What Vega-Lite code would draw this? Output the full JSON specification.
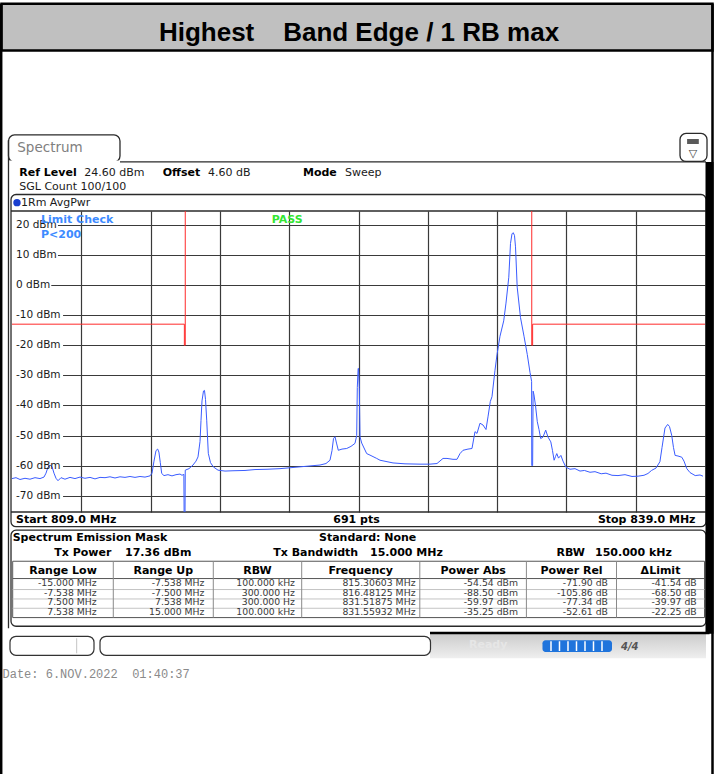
{
  "$schema": "https://vega.github.io/schema/vega-lite/v6.json",
  "width": 693,
  "height": 301,
  "autosize": {"type": "none"},
  "padding": {"left": 12, "top": 211, "right": 13, "bottom": 262},
  "background": "white",
  "config": {
    "view": {"stroke": null},
    "axis": {"gridColor": "#3a3a3a", "gridWidth": 1.2, "gridOpacity": 1}
  },
  "datasets": {
    "trace": [
      {"f":809.000,"dbm":-64.3},{"f":809.173,"dbm":-64.0},{"f":809.346,"dbm":-64.6},{"f":809.563,"dbm":-64.2},{"f":809.779,"dbm":-64.5},
      {"f":809.996,"dbm":-64.0},{"f":810.212,"dbm":-64.3},{"f":810.385,"dbm":-63.8},{"f":810.472,"dbm":-62.5},{"f":810.558,"dbm":-60.5},
      {"f":810.645,"dbm":-59.8},{"f":810.732,"dbm":-60.3},{"f":810.818,"dbm":-62.5},{"f":810.905,"dbm":-64.2},{"f":810.991,"dbm":-65.0},
      {"f":811.121,"dbm":-64.0},{"f":811.294,"dbm":-64.5},{"f":811.511,"dbm":-63.9},{"f":811.727,"dbm":-64.3},{"f":811.944,"dbm":-63.8},
      {"f":812.160,"dbm":-64.2},{"f":812.377,"dbm":-63.9},{"f":812.593,"dbm":-64.4},{"f":812.810,"dbm":-63.9},{"f":813.026,"dbm":-64.0},
      {"f":813.242,"dbm":-63.7},{"f":813.459,"dbm":-64.1},{"f":813.675,"dbm":-63.7},{"f":813.892,"dbm":-63.9},{"f":814.108,"dbm":-63.6},
      {"f":814.325,"dbm":-63.9},{"f":814.541,"dbm":-63.6},{"f":814.758,"dbm":-63.8},{"f":814.974,"dbm":-63.4},{"f":815.061,"dbm":-62.5},
      {"f":815.147,"dbm":-58.5},{"f":815.234,"dbm":-55.0},{"f":815.306,"dbm":-54.5},{"f":815.360,"dbm":-55.5},{"f":815.420,"dbm":-59.0},
      {"f":815.481,"dbm":-62.6},{"f":815.580,"dbm":-63.3},{"f":815.753,"dbm":-63.0},{"f":815.926,"dbm":-63.4},{"f":816.100,"dbm":-63.0},
      {"f":816.273,"dbm":-62.8},{"f":816.359,"dbm":-63.2},{"f":816.440,"dbm":-62.9},{"f":816.462,"dbm":-88.5},{"f":816.481,"dbm":-88.5},
      {"f":816.500,"dbm":-61.5},{"f":816.662,"dbm":-61.0},{"f":816.835,"dbm":-59.8},{"f":816.965,"dbm":-58.5},{"f":817.052,"dbm":-57.1},
      {"f":817.139,"dbm":-52.0},{"f":817.182,"dbm":-45.0},{"f":817.225,"dbm":-38.5},{"f":817.290,"dbm":-35.2},{"f":817.333,"dbm":-35.0},
      {"f":817.377,"dbm":-38.0},{"f":817.429,"dbm":-44.9},{"f":817.498,"dbm":-55.9},{"f":817.593,"dbm":-59.0},{"f":817.714,"dbm":-60.4},
      {"f":817.918,"dbm":-61.5},{"f":818.221,"dbm":-61.8},{"f":818.567,"dbm":-61.7},{"f":819.087,"dbm":-61.6},{"f":819.519,"dbm":-61.3},
      {"f":820.039,"dbm":-61.2},{"f":820.602,"dbm":-61.0},{"f":821.035,"dbm":-60.7},{"f":821.468,"dbm":-60.4},{"f":821.900,"dbm":-60.1},
      {"f":822.333,"dbm":-59.8},{"f":822.593,"dbm":-59.3},{"f":822.766,"dbm":-58.2},{"f":822.853,"dbm":-55.0},{"f":822.918,"dbm":-51.0},
      {"f":822.983,"dbm":-50.4},{"f":823.048,"dbm":-52.5},{"f":823.126,"dbm":-54.9},{"f":823.286,"dbm":-54.5},{"f":823.489,"dbm":-54.3},
      {"f":823.675,"dbm":-53.6},{"f":823.848,"dbm":-52.6},{"f":823.922,"dbm":-50.0},{"f":823.948,"dbm":-34.0},{"f":823.985,"dbm":-27.7},
      {"f":824.000,"dbm":-27.7},{"f":824.035,"dbm":-34.0},{"f":824.065,"dbm":-50.4},{"f":824.139,"dbm":-52.5},{"f":824.355,"dbm":-56.0},
      {"f":824.498,"dbm":-56.5},{"f":824.788,"dbm":-57.6},{"f":824.931,"dbm":-58.2},{"f":825.494,"dbm":-59.1},{"f":826.013,"dbm":-59.4},
      {"f":826.662,"dbm":-59.5},{"f":827.095,"dbm":-59.5},{"f":827.398,"dbm":-59.3},{"f":827.658,"dbm":-57.6},{"f":827.831,"dbm":-57.6},
      {"f":828.091,"dbm":-57.9},{"f":828.264,"dbm":-57.9},{"f":828.394,"dbm":-56.0},{"f":828.524,"dbm":-54.9},{"f":828.740,"dbm":-54.5},
      {"f":828.913,"dbm":-54.3},{"f":829.043,"dbm":-48.7},{"f":829.130,"dbm":-49.3},{"f":829.260,"dbm":-45.9},{"f":829.390,"dbm":-46.5},
      {"f":829.519,"dbm":-48.0},{"f":829.606,"dbm":-43.8},{"f":829.706,"dbm":-38.7},{"f":829.779,"dbm":-37.1},{"f":829.909,"dbm":-28.3},
      {"f":829.996,"dbm":-23.1},{"f":830.126,"dbm":-17.0},{"f":830.286,"dbm":-11.9},{"f":830.385,"dbm":-6.0},{"f":830.506,"dbm":2.6},
      {"f":830.580,"dbm":13.8},{"f":830.645,"dbm":17.0},{"f":830.697,"dbm":17.4},{"f":830.753,"dbm":16.5},{"f":830.797,"dbm":12.7},
      {"f":830.870,"dbm":-0.7},{"f":831.013,"dbm":-10.8},{"f":831.165,"dbm":-17.0},{"f":831.307,"dbm":-23.1},{"f":831.424,"dbm":-29.0},
      {"f":831.494,"dbm":-32.0},{"f":831.500,"dbm":-59.97},{"f":831.538,"dbm":-59.97},{"f":831.559,"dbm":-35.25},{"f":831.597,"dbm":-36.5},
      {"f":831.662,"dbm":-40.0},{"f":831.740,"dbm":-45.4},{"f":831.814,"dbm":-48.0},{"f":831.887,"dbm":-51.0},{"f":831.987,"dbm":-50.5},
      {"f":832.104,"dbm":-48.2},{"f":832.203,"dbm":-50.5},{"f":832.325,"dbm":-52.1},{"f":832.398,"dbm":-55.0},{"f":832.468,"dbm":-58.2},
      {"f":832.528,"dbm":-57.0},{"f":832.584,"dbm":-56.0},{"f":832.658,"dbm":-57.5},{"f":832.762,"dbm":-56.6},{"f":832.853,"dbm":-58.5},
      {"f":832.978,"dbm":-60.5},{"f":833.156,"dbm":-61.2},{"f":833.372,"dbm":-61.0},{"f":833.589,"dbm":-61.8},{"f":833.779,"dbm":-61.6},
      {"f":834.022,"dbm":-62.2},{"f":834.238,"dbm":-62.0},{"f":834.506,"dbm":-62.7},{"f":834.714,"dbm":-62.5},{"f":834.974,"dbm":-63.2},
      {"f":835.234,"dbm":-63.3},{"f":835.537,"dbm":-63.0},{"f":835.840,"dbm":-63.6},{"f":836.104,"dbm":-63.5},{"f":836.359,"dbm":-63.2},
      {"f":836.532,"dbm":-62.6},{"f":836.684,"dbm":-61.6},{"f":836.879,"dbm":-60.8},{"f":837.048,"dbm":-58.7},{"f":837.139,"dbm":-54.0},
      {"f":837.268,"dbm":-47.5},{"f":837.385,"dbm":-46.3},{"f":837.463,"dbm":-47.0},{"f":837.558,"dbm":-49.9},{"f":837.636,"dbm":-54.0},
      {"f":837.706,"dbm":-56.6},{"f":837.831,"dbm":-56.8},{"f":837.996,"dbm":-57.2},{"f":838.091,"dbm":-58.5},{"f":838.212,"dbm":-61.0},
      {"f":838.351,"dbm":-62.3},{"f":838.576,"dbm":-63.3},{"f":838.784,"dbm":-63.1},{"f":838.913,"dbm":-63.5}
    ],
    "limit": [
      {"seg":"L","i":1,"f":809,"dbm":-13},{"seg":"L","i":2,"f":816.462,"dbm":-13},{"seg":"L","i":3,"f":816.462,"dbm":-20},
      {"seg":"L","i":4,"f":816.5,"dbm":-20},{"seg":"L","i":5,"f":816.5,"dbm":30},
      {"seg":"R","i":1,"f":831.5,"dbm":30},{"seg":"R","i":2,"f":831.5,"dbm":-20},{"seg":"R","i":3,"f":831.538,"dbm":-20},
      {"seg":"R","i":4,"f":831.538,"dbm":-13},{"seg":"R","i":5,"f":839,"dbm":-13}
    ],
    "levels": [
      {"f":809,"f2":810.99,"dbm":20,"label":"20 dBm"},{"f":809,"f2":810.99,"dbm":10,"label":"10 dBm"},{"f":809,"f2":810.7,"dbm":0,"label":"0 dBm"},
      {"f":809,"f2":811.21,"dbm":-10,"label":"-10 dBm"},{"f":809,"f2":811.21,"dbm":-20,"label":"-20 dBm"},{"f":809,"f2":811.21,"dbm":-30,"label":"-30 dBm"},
      {"f":809,"f2":811.21,"dbm":-40,"label":"-40 dBm"},{"f":809,"f2":811.21,"dbm":-50,"label":"-50 dBm"},{"f":809,"f2":811.21,"dbm":-60,"label":"-60 dBm"},
      {"f":809,"f2":811.21,"dbm":-70,"label":"-70 dBm"}
    ],
    "boxes": [
      {"role":"band","f":808.545,"f2":839.325,"dbm":93.42,"dbm2":77.96},
      {"role":"tab","f":808.848,"f2":813.675,"dbm":49.87,"dbm2":40.89},
      {"role":"tab","f":837.918,"f2":839.087,"dbm":50.37,"dbm2":41.06},
      {"role":"dark","f":838.225,"f2":838.732,"dbm":48.54,"dbm2":46.87},
      {"role":"frame","f":808.957,"f2":839.043,"dbm":30.09,"dbm2":-80.29},
      {"role":"frame","f":808.957,"f2":839.043,"dbm":-81.45,"dbm2":-113.36},
      {"role":"tablebox","f":809.03,"f2":838.978,"dbm":-91.76,"dbm2":-110.48},
      {"role":"statusbg","f":827.095,"f2":839.043,"dbm":-115.86,"dbm2":-124.0},
      {"role":"statusbox","f":808.913,"f2":812.55,"dbm":-116.69,"dbm2":-123.01},
      {"role":"statusbox","f":812.81,"f2":827.117,"dbm":-116.69,"dbm2":-123.01},
      {"role":"progress","f":831.965,"f2":834.974,"dbm":-118.02,"dbm2":-121.91}
    ],
    "rules": [
      {"role":"page","f":808.532,"f2":808.532,"dbm":93.42,"dbm2":-175},
      {"role":"page","f":839.325,"f2":839.325,"dbm":93.42,"dbm2":-175},
      {"role":"erase","f":808.9,"f2":813.632,"dbm":40.89,"dbm2":40.89},
      {"role":"line","f":813.675,"f2":839.043,"dbm":40.89,"dbm2":40.89},
      {"role":"line","f":808.848,"f2":808.848,"dbm":48.2,"dbm2":-114.03},
      {"role":"line","f":808.957,"f2":839.043,"dbm":24.6,"dbm2":24.6},
      {"role":"line","f":808.957,"f2":839.043,"dbm":-75.4,"dbm2":-75.4},
      {"role":"thick","f":839.195,"f2":839.195,"dbm":40.89,"dbm2":-115.86},
      {"role":"page","f":827.095,"f2":839.195,"dbm":-115.6,"dbm2":-115.6},
      {"role":"tgrid","f":809.03,"f2":838.978,"dbm":-97.51,"dbm2":-97.51},
      {"role":"tlight","f":809.03,"f2":838.978,"dbm":-101.16,"dbm2":-101.16},
      {"role":"tlight","f":809.03,"f2":838.978,"dbm":-104.29,"dbm2":-104.29},
      {"role":"tlight","f":809.03,"f2":838.978,"dbm":-107.38,"dbm2":-107.38},
      {"role":"tsep","f":813.385,"f2":813.385,"dbm":-91.76,"dbm2":-110.48},
      {"role":"tsep","f":817.714,"f2":817.714,"dbm":-91.76,"dbm2":-110.48},
      {"role":"tsep","f":821.541,"f2":821.541,"dbm":-91.76,"dbm2":-110.48},
      {"role":"tsep","f":826.654,"f2":826.654,"dbm":-91.76,"dbm2":-110.48},
      {"role":"tsep","f":831.268,"f2":831.268,"dbm":-91.76,"dbm2":-110.48},
      {"role":"tsep","f":835.169,"f2":835.169,"dbm":-91.76,"dbm2":-110.48},
      {"role":"tlight","f":811.80,"f2":811.80,"dbm":-117.36,"dbm2":-122.34},
      {"role":"sep","f":832.333,"f2":832.333,"dbm":-118.35,"dbm2":-121.58},
      {"role":"sep","f":832.701,"f2":832.701,"dbm":-118.35,"dbm2":-121.58},
      {"role":"sep","f":833.069,"f2":833.069,"dbm":-118.35,"dbm2":-121.58},
      {"role":"sep","f":833.437,"f2":833.437,"dbm":-118.35,"dbm2":-121.58},
      {"role":"sep","f":833.805,"f2":833.805,"dbm":-118.35,"dbm2":-121.58},
      {"role":"sep","f":834.173,"f2":834.173,"dbm":-118.35,"dbm2":-121.58},
      {"role":"sep","f":834.541,"f2":834.541,"dbm":-118.35,"dbm2":-121.58}
    ],
    "markers": [
      {"f":809.216,"dbm":27.37}
    ],
    "labels": [
      {"role":"title","text":"Highest\u00a0\u00a0\u00a0\u00a0Band Edge / 1 RB max","f":824.022,"dbm":80.95},
      {"role":"tab","text":"Spectrum","f":809.229,"dbm":44.05},
      {"role":"key","text":"Ref Level","f":809.316,"dbm":36.24},
      {"role":"val","text":"24.60 dBm","f":812.13,"dbm":36.24},
      {"role":"key","text":"Offset","f":815.524,"dbm":36.24},
      {"role":"val","text":"4.60 dB","f":817.485,"dbm":36.24},
      {"role":"key","text":"Mode","f":821.597,"dbm":36.24},
      {"role":"val","text":"Sweep","f":823.416,"dbm":36.24},
      {"role":"val","text":"SGL Count 100/100","f":809.316,"dbm":31.58},
      {"role":"val","text":"1Rm AvgPwr","f":809.39,"dbm":26.26},
      {"role":"limit","text":"Limit Check","f":810.255,"dbm":20.71},
      {"role":"limit","text":"P<200","f":810.255,"dbm":15.62},
      {"role":"pass","text":"PASS","f":820.242,"dbm":20.71},
      {"role":"key","text":"Start 809.0 MHz","f":809.173,"dbm":-79.22},
      {"role":"key","text":"691 pts","f":822.909,"dbm":-79.22},
      {"role":"keyR","text":"Stop 839.0 MHz","f":838.589,"dbm":-79.22},
      {"role":"key","text":"Spectrum Emission Mask","f":809.03,"dbm":-85.11},
      {"role":"key","text":"Standard: None","f":822.29,"dbm":-85.11},
      {"role":"key","text":"Tx Power","f":810.831,"dbm":-90.09},
      {"role":"key","text":"17.36 dBm","f":813.892,"dbm":-90.09},
      {"role":"key","text":"Tx Bandwidth","f":820.312,"dbm":-90.09},
      {"role":"key","text":"15.000 MHz","f":824.498,"dbm":-90.09},
      {"role":"key","text":"RBW","f":832.576,"dbm":-90.09},
      {"role":"key","text":"150.000 kHz","f":834.238,"dbm":-90.09},
      {"role":"head","text":"Range Low","f":811.208,"dbm":-95.85},
      {"role":"head","text":"Range Up","f":815.55,"dbm":-95.85},
      {"role":"head","text":"RBW","f":819.628,"dbm":-95.85},
      {"role":"head","text":"Frequency","f":824.1,"dbm":-95.85},
      {"role":"head","text":"Power Abs","f":828.961,"dbm":-95.85},
      {"role":"head","text":"Power Rel","f":833.221,"dbm":-95.85},
      {"role":"head","text":"ΔLimit","f":837.074,"dbm":-95.85},
      {"role":"cell","text":"-15.000 MHz","f":812.667,"dbm":-100.07},
      {"role":"cell","text":"-7.538 MHz","f":817.333,"dbm":-100.07},
      {"role":"cell","text":"100.000 kHz","f":821.251,"dbm":-100.07},
      {"role":"cell","text":"815.30603 MHz","f":826.468,"dbm":-100.07},
      {"role":"cell","text":"-54.54 dBm","f":830.905,"dbm":-100.07},
      {"role":"cell","text":"-71.90 dB","f":834.801,"dbm":-100.07},
      {"role":"cell","text":"-41.54 dB","f":838.641,"dbm":-100.07},
      {"role":"cell","text":"-7.538 MHz","f":812.667,"dbm":-103.29},
      {"role":"cell","text":"-7.500 MHz","f":817.333,"dbm":-103.29},
      {"role":"cell","text":"300.000 Hz","f":821.251,"dbm":-103.29},
      {"role":"cell","text":"816.48125 MHz","f":826.468,"dbm":-103.29},
      {"role":"cell","text":"-88.50 dBm","f":830.905,"dbm":-103.29},
      {"role":"cell","text":"-105.86 dB","f":834.801,"dbm":-103.29},
      {"role":"cell","text":"-68.50 dB","f":838.641,"dbm":-103.29},
      {"role":"cell","text":"7.500 MHz","f":812.667,"dbm":-106.39},
      {"role":"cell","text":"7.538 MHz","f":817.333,"dbm":-106.39},
      {"role":"cell","text":"300.000 Hz","f":821.251,"dbm":-106.39},
      {"role":"cell","text":"831.51875 MHz","f":826.468,"dbm":-106.39},
      {"role":"cell","text":"-59.97 dBm","f":830.905,"dbm":-106.39},
      {"role":"cell","text":"-77.34 dB","f":834.801,"dbm":-106.39},
      {"role":"cell","text":"-39.97 dB","f":838.641,"dbm":-106.39},
      {"role":"cell","text":"7.538 MHz","f":812.667,"dbm":-109.48},
      {"role":"cell","text":"15.000 MHz","f":817.333,"dbm":-109.48},
      {"role":"cell","text":"100.000 kHz","f":821.251,"dbm":-109.48},
      {"role":"cell","text":"831.55932 MHz","f":826.468,"dbm":-109.48},
      {"role":"cell","text":"-35.25 dBm","f":830.905,"dbm":-109.48},
      {"role":"cell","text":"-52.61 dB","f":834.801,"dbm":-109.48},
      {"role":"cell","text":"-22.25 dB","f":838.641,"dbm":-109.48},
      {"role":"ready","text":"Ready","f":828.784,"dbm":-120.68},
      {"role":"icon","text":"4/4","f":835.364,"dbm":-121.35},
      {"role":"glyph","text":"▽","f":838.48,"dbm":42.55},
      {"role":"date","text":"Date: 6.NOV.2022\u00a0 01:40:37","f":808.589,"dbm":-130.65}
    ]
  },
  "encoding": {
    "x": {"field": "f", "type": "quantitative", "scale": {"domain": [809, 839], "nice": false, "zero": false},
          "axis": {"title": null, "grid": true, "labels": false, "ticks": false, "domain": false, "values": [812, 815, 818, 821, 824, 827, 830, 833, 836]}},
    "y": {"field": "dbm", "type": "quantitative", "scale": {"domain": [-75.4, 24.6], "nice": false, "zero": false},
          "axis": {"title": null, "grid": true, "labels": false, "ticks": false, "domain": false, "values": [-70, -60, -50, -40, -30, -20, -10, 0, 10, 20]}}
  },
  "layer": [
    {"data": {"name": "boxes"}, "transform": [{"filter": "datum.role === 'band'"}],
     "mark": {"type": "rect", "fill": "#c0c0c0", "stroke": "#000000", "strokeWidth": 2.5},
     "encoding": {"x2": {"field": "f2"}, "y2": {"field": "dbm2"}}},
    {"data": {"name": "boxes"}, "transform": [{"filter": "datum.role === 'tab'"}],
     "mark": {"type": "rect", "fill": "#ffffff", "stroke": "#2a2a2a", "strokeWidth": 1.3, "cornerRadius": 6},
     "encoding": {"x2": {"field": "f2"}, "y2": {"field": "dbm2"}}},
    {"data": {"name": "boxes"}, "transform": [{"filter": "datum.role === 'dark'"}],
     "mark": {"type": "rect", "fill": "#5a5a5a"},
     "encoding": {"x2": {"field": "f2"}, "y2": {"field": "dbm2"}}},
    {"data": {"name": "boxes"}, "transform": [{"filter": "datum.role === 'frame'"}],
     "mark": {"type": "rect", "fill": "#ffffff", "fillOpacity": 0, "stroke": "#2a2a2a", "strokeWidth": 1.3, "cornerRadius": 5},
     "encoding": {"x2": {"field": "f2"}, "y2": {"field": "dbm2"}}},
    {"data": {"name": "boxes"}, "transform": [{"filter": "datum.role === 'tablebox'"}],
     "mark": {"type": "rect", "fill": "#ffffff", "fillOpacity": 0, "stroke": "#555555", "strokeWidth": 1},
     "encoding": {"x2": {"field": "f2"}, "y2": {"field": "dbm2"}}},
    {"data": {"name": "boxes"}, "transform": [{"filter": "datum.role === 'statusbg'"}],
     "mark": {"type": "rect", "fill": {"gradient": "linear", "x1": 0, "y1": 0, "x2": 0, "y2": 1, "stops": [{"offset": 0, "color": "#cccccc"}, {"offset": 1, "color": "#efefef"}]}},
     "encoding": {"x2": {"field": "f2"}, "y2": {"field": "dbm2"}}},
    {"data": {"name": "boxes"}, "transform": [{"filter": "datum.role === 'statusbox'"}],
     "mark": {"type": "rect", "fill": "#ffffff", "stroke": "#333333", "strokeWidth": 1.2, "cornerRadius": 6},
     "encoding": {"x2": {"field": "f2"}, "y2": {"field": "dbm2"}}},
    {"data": {"name": "boxes"}, "transform": [{"filter": "datum.role === 'progress'"}],
     "mark": {"type": "rect", "fill": "#1f74dc", "cornerRadius": 3},
     "encoding": {"x2": {"field": "f2"}, "y2": {"field": "dbm2"}}},
    {"data": {"name": "rules"}, "transform": [{"filter": "datum.role === 'page'"}],
     "mark": {"type": "rule", "color": "#000000", "strokeWidth": 2.5},
     "encoding": {"x2": {"field": "f2"}, "y2": {"field": "dbm2"}}},
    {"data": {"name": "rules"}, "transform": [{"filter": "datum.role === 'erase'"}],
     "mark": {"type": "rule", "color": "#ffffff", "strokeWidth": 3},
     "encoding": {"x2": {"field": "f2"}, "y2": {"field": "dbm2"}}},
    {"data": {"name": "rules"}, "transform": [{"filter": "datum.role === 'line'"}],
     "mark": {"type": "rule", "color": "#2a2a2a", "strokeWidth": 1.3},
     "encoding": {"x2": {"field": "f2"}, "y2": {"field": "dbm2"}}},
    {"data": {"name": "rules"}, "transform": [{"filter": "datum.role === 'thick'"}],
     "mark": {"type": "rule", "color": "#000000", "strokeWidth": 8},
     "encoding": {"x2": {"field": "f2"}, "y2": {"field": "dbm2"}}},
    {"data": {"name": "rules"}, "transform": [{"filter": "datum.role === 'tgrid'"}],
     "mark": {"type": "rule", "color": "#555555", "strokeWidth": 1},
     "encoding": {"x2": {"field": "f2"}, "y2": {"field": "dbm2"}}},
    {"data": {"name": "rules"}, "transform": [{"filter": "datum.role === 'tlight'"}],
     "mark": {"type": "rule", "color": "#c4c4c4", "strokeWidth": 1},
     "encoding": {"x2": {"field": "f2"}, "y2": {"field": "dbm2"}}},
    {"data": {"name": "rules"}, "transform": [{"filter": "datum.role === 'tsep'"}],
     "mark": {"type": "rule", "color": "#8a8a8a", "strokeWidth": 1},
     "encoding": {"x2": {"field": "f2"}, "y2": {"field": "dbm2"}}},
    {"data": {"name": "rules"}, "transform": [{"filter": "datum.role === 'sep'"}],
     "mark": {"type": "rule", "color": "#ffffff", "strokeWidth": 1.5},
     "encoding": {"x2": {"field": "f2"}, "y2": {"field": "dbm2"}}},
    {"data": {"name": "levels"},
     "mark": {"type": "rule", "color": "#ffffff", "strokeWidth": 4},
     "encoding": {"x2": {"field": "f2"}}},
    {"data": {"name": "trace"},
     "mark": {"type": "line", "color": "#3a5cff", "strokeWidth": 1, "clip": true}},
    {"data": {"name": "limit"},
     "mark": {"type": "line", "color": "#ff2a2a", "strokeWidth": 1, "clip": true},
     "encoding": {"detail": {"field": "seg"}, "order": {"field": "i", "type": "quantitative"}}},
    {"data": {"name": "levels"},
     "mark": {"type": "text", "align": "left", "baseline": "middle", "dx": 4, "font": "DejaVu Sans", "fontSize": 10.5, "fill": "#1a1a1a"},
     "encoding": {"text": {"field": "label"}}},
    {"data": {"name": "labels"}, "transform": [{"filter": "datum.role === 'title'"}],
     "mark": {"type": "text", "align": "center", "baseline": "alphabetic", "font": "Liberation Sans", "fontSize": 26, "fontWeight": "bold", "fill": "#000000"},
     "encoding": {"text": {"field": "text"}}},
    {"data": {"name": "labels"}, "transform": [{"filter": "datum.role === 'tab'"}],
     "mark": {"type": "text", "align": "left", "baseline": "alphabetic", "font": "DejaVu Sans", "fontSize": 13.5, "fill": "#808080"},
     "encoding": {"text": {"field": "text"}}},
    {"data": {"name": "labels"}, "transform": [{"filter": "datum.role === 'key'"}],
     "mark": {"type": "text", "align": "left", "baseline": "alphabetic", "font": "DejaVu Sans", "fontSize": 11, "fontWeight": "bold", "fill": "#000000"},
     "encoding": {"text": {"field": "text"}}},
    {"data": {"name": "labels"}, "transform": [{"filter": "datum.role === 'keyR'"}],
     "mark": {"type": "text", "align": "right", "baseline": "alphabetic", "font": "DejaVu Sans", "fontSize": 11, "fontWeight": "bold", "fill": "#000000"},
     "encoding": {"text": {"field": "text"}}},
    {"data": {"name": "labels"}, "transform": [{"filter": "datum.role === 'val'"}],
     "mark": {"type": "text", "align": "left", "baseline": "alphabetic", "font": "DejaVu Sans", "fontSize": 11, "fill": "#1a1a1a"},
     "encoding": {"text": {"field": "text"}}},
    {"data": {"name": "labels"}, "transform": [{"filter": "datum.role === 'limit'"}],
     "mark": {"type": "text", "align": "left", "baseline": "alphabetic", "font": "DejaVu Sans", "fontSize": 11, "fontWeight": "bold", "fill": "#3d8bff"},
     "encoding": {"text": {"field": "text"}}},
    {"data": {"name": "labels"}, "transform": [{"filter": "datum.role === 'pass'"}],
     "mark": {"type": "text", "align": "left", "baseline": "alphabetic", "font": "DejaVu Sans", "fontSize": 11, "fontWeight": "bold", "fill": "#33e633"},
     "encoding": {"text": {"field": "text"}}},
    {"data": {"name": "labels"}, "transform": [{"filter": "datum.role === 'head'"}],
     "mark": {"type": "text", "align": "center", "baseline": "alphabetic", "font": "DejaVu Sans", "fontSize": 11, "fontWeight": "bold", "fill": "#000000"},
     "encoding": {"text": {"field": "text"}}},
    {"data": {"name": "labels"}, "transform": [{"filter": "datum.role === 'cell'"}],
     "mark": {"type": "text", "align": "right", "baseline": "alphabetic", "font": "DejaVu Sans", "fontSize": 9.3, "fill": "#3a3a3a"},
     "encoding": {"text": {"field": "text"}}},
    {"data": {"name": "labels"}, "transform": [{"filter": "datum.role === 'ready'"}],
     "mark": {"type": "text", "align": "left", "baseline": "alphabetic", "font": "DejaVu Sans", "fontSize": 11, "fontWeight": "bold", "fill": "#e6e6e6"},
     "encoding": {"text": {"field": "text"}}},
    {"data": {"name": "labels"}, "transform": [{"filter": "datum.role === 'icon'"}],
     "mark": {"type": "text", "align": "left", "baseline": "alphabetic", "font": "DejaVu Sans", "fontSize": 10, "fontWeight": "bold", "fontStyle": "italic", "fill": "#555555"},
     "encoding": {"text": {"field": "text"}}},
    {"data": {"name": "labels"}, "transform": [{"filter": "datum.role === 'glyph'"}],
     "mark": {"type": "text", "align": "center", "baseline": "alphabetic", "font": "DejaVu Sans", "fontSize": 11, "fill": "#444444"},
     "encoding": {"text": {"field": "text"}}},
    {"data": {"name": "labels"}, "transform": [{"filter": "datum.role === 'date'"}],
     "mark": {"type": "text", "align": "left", "baseline": "alphabetic", "font": "Liberation Mono", "fontSize": 12, "fill": "#8a8a8a"},
     "encoding": {"text": {"field": "text"}}},
    {"data": {"name": "markers"},
     "mark": {"type": "point", "filled": true, "size": 55, "color": "#1a3fd0", "opacity": 1}}
  ]
}
